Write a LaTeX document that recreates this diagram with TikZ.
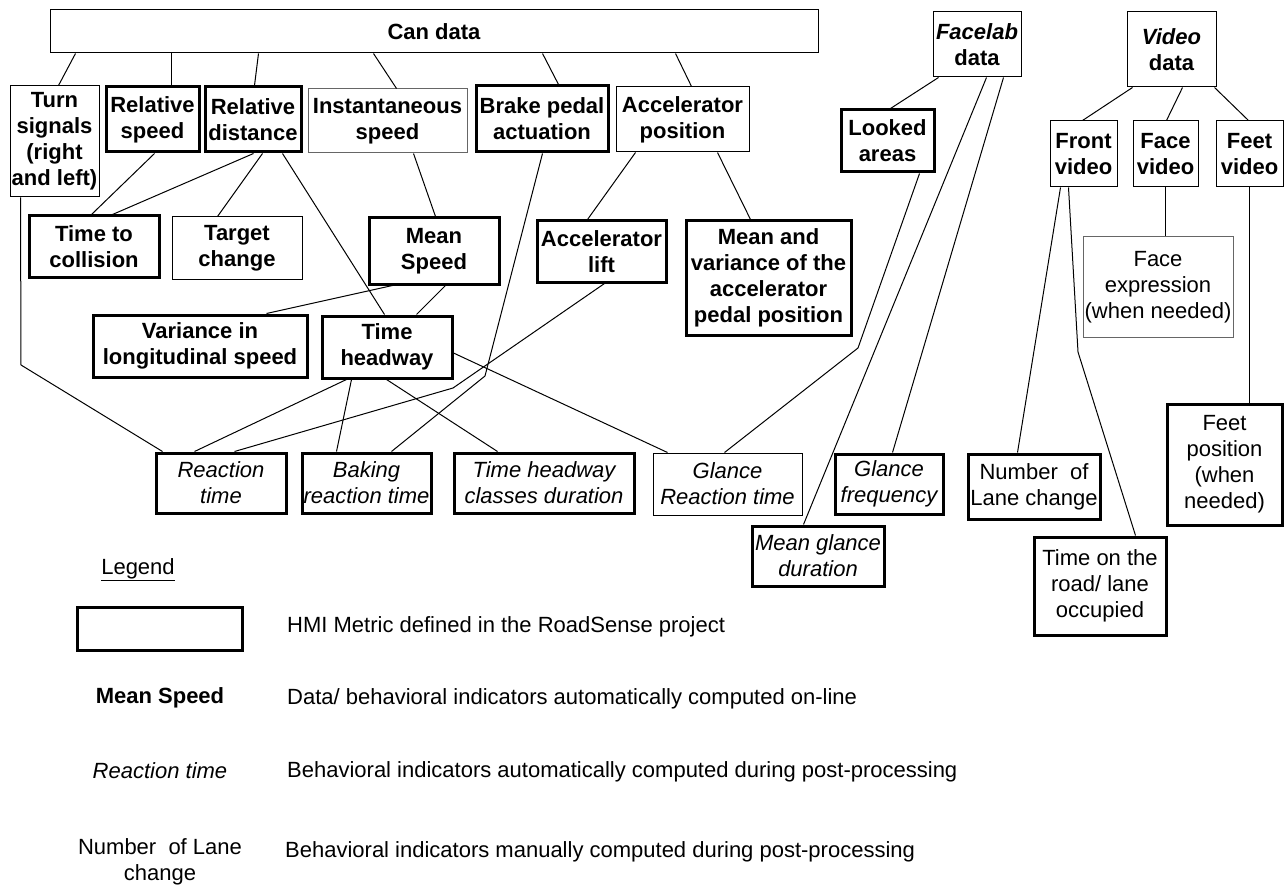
\documentclass[tikz,border=0pt]{standalone}
\usepackage{fontspec}
\setmainfont{Liberation Sans}
\usepackage{tikz}
\tikzstyle{online} = [font=\fontsize{22}{26}\selectfont\bfseries]
\tikzstyle{post} = [font=\fontsize{22}{26}\selectfont\itshape]
\tikzstyle{manual} = [font=\fontsize{22}{26}\selectfont]
\tikzstyle{datum} = [rectangle, draw=black, line width=1pt, inner sep=0pt, align=center, online]
\tikzstyle{metric} = [rectangle, draw=black, line width=3pt, inner sep=0pt, align=center, online]
\tikzstyle{legtext} = [anchor=west, inner sep=0pt, manual]
\tikzstyle{link} = [line width=1pt]

\begin{document}
\begin{tikzpicture}[x=1pt, y=-1pt]
  \useasboundingbox (0,0) rectangle (1284,885);
  \node(can)[datum, minimum width=768pt, minimum height=43pt] at (434,31.5){Can data};
  \node(facelab)[datum, minimum width=88pt, minimum height=65pt] at (977,44.5){\textit{Facelab}\\data};
  \node(video)[datum, minimum width=89pt, minimum height=75pt] at (1171.5,49.5){\textit{Video}\\data};
  \node(turn)[datum, minimum width=89pt, minimum height=111pt] at (54.5,141.5){Turn\\signals\\(right\\and left)};
  \node(relspeed)[metric, minimum width=93pt, minimum height=65pt] at (152.5,119.5){Relative\\speed};
  \node(reldist)[metric, minimum width=96pt, minimum height=65pt] at (253,119.5){Relative\\distance};
  \node(instspeed)[datum, draw=black!60, minimum width=159pt, minimum height=64pt] at (387.5,121){Instantaneous\\speed};
  \node(brake)[metric, minimum width=132pt, minimum height=66pt] at (542,119){Brake pedal\\actuation};
  \node(accpos)[datum, minimum width=133pt, minimum height=65pt] at (682.5,119.5){Accelerator\\position};
  \node(looked)[metric, minimum width=93pt, minimum height=62pt] at (887.5,141){Looked\\areas};
  \node(front)[datum, minimum width=67pt, minimum height=66pt] at (1083.5,154){Front\\video};
  \node(facevid)[datum, minimum width=65pt, minimum height=66pt] at (1165.5,154){Face\\video};
  \node(feetvid)[datum, minimum width=67pt, minimum height=66pt] at (1249.5,154){Feet\\video};
  \node(ttc)[metric, minimum width=130pt, minimum height=61pt] at (94,246.5){Time to\\collision};
  \node(target)[datum, minimum width=130pt, minimum height=62pt] at (237,248){Target\\change};
  \node(meanspeed)[metric, minimum width=130pt, minimum height=66pt] at (434,251){Mean\\Speed};
  \node(acclift)[metric, minimum width=129pt, minimum height=61pt] at (601.5,251.5){Accelerator\\lift};
  \node(meanvar)[metric, minimum width=165pt, minimum height=114pt] at (768.5,278){Mean and\\variance of the\\accelerator\\pedal position};
  \node(faceexpr)[datum, draw=black!60, manual, minimum width=150pt, minimum height=100pt] at (1158,287){Face\\expression\\(when needed)};
  \node(varlong)[metric, minimum width=214pt, minimum height=62pt] at (200,346){Variance in\\longitudinal speed};
  \node(headway)[metric, minimum width=130pt, minimum height=62pt] at (387,347){Time\\headway};
  \node(feetpos)[metric, manual, minimum width=115pt, minimum height=121pt] at (1224.5,464.5){Feet\\position\\(when\\needed)};
  \node(reaction)[metric, post, minimum width=130pt, minimum height=60pt] at (221,483){Reaction\\time};
  \node(baking)[metric, post, minimum width=129pt, minimum height=60pt] at (366.5,483){Baking\\reaction time};
  \node(classes)[metric, post, minimum width=180pt, minimum height=60pt] at (544,483){Time headway\\classes duration};
  \node(glancert)[datum, post, minimum width=149pt, minimum height=62pt] at (727.5,484){Glance\\Reaction time};
  \node(glancefreq)[metric, post, minimum width=108pt, minimum height=60pt] at (889,484){Glance\\frequency};
  \node(meanglance)[metric, post, minimum width=132pt, minimum height=60pt] at (818,556){Mean glance\\duration};
  \node(lanechange)[metric, manual, minimum width=132pt, minimum height=65pt] at (1034,486.5){Number\ \ of\\Lane change};
  \node(roadtime)[metric, manual, minimum width=132pt, minimum height=98pt] at (1100,586){Time on the\\road/ lane\\occupied};

  \node(legendlbl)[manual] at (138,570){\underline{Legend}};
  \node(legbox)[metric, minimum width=165pt, minimum height=43pt] at (159.5,628.5){};
  \node(legbold)[online] at (160,698){Mean Speed};
  \node(legital)[post] at (160,771){Reaction time};
  \node(legplain)[manual, align=center] at (160,862){Number\ \ of Lane\\change};
  \node(keybox)[legtext] at (287,627){HMI Metric defined in the RoadSense project};
  \node(keybold)[legtext] at (287,699){Data/ behavioral indicators automatically computed on-line};
  \node(keyital)[legtext] at (287,772){Behavioral indicators automatically computed during post-processing};
  \node(keyplain)[legtext] at (285,852){Behavioral indicators manually computed during post-processing};

  \coordinate(turnbend) at (21,365);
  \coordinate(brakebend) at (485,376);
  \coordinate(liftbend) at (453,388);
  \coordinate(lookbend) at (858,348);
  \coordinate(frontbend) at (1078,352);

  \draw[link] ([xshift=26pt]can.south west)--([xshift=49pt]turn.north west);
  \draw[link] ([xshift=122pt]can.south west)--([xshift=67pt]relspeed.north west);
  \draw[link] ([xshift=209pt]can.south west)--([xshift=51pt]reldist.north west);
  \draw[link] ([xshift=324pt]can.south west)--([xshift=89pt]instspeed.north west);
  \draw[link] ([xshift=493pt]can.south west)--([xshift=84pt]brake.north west);
  \draw[link] ([xshift=626pt]can.south west)--([xshift=76pt]accpos.north west);
  \draw[link] ([xshift=6pt]facelab.south west)--([xshift=51pt]looked.north west);
  \draw[link] ([xshift=54pt]facelab.south west)--([xshift=53pt]meanglance.north west);
  \draw[link] ([xshift=71pt]facelab.south west)--([xshift=59pt]glancefreq.north west);
  \draw[link] ([xshift=80pt]looked.south west)--(lookbend)--([xshift=72pt]glancert.north west);
  \draw[link] ([xshift=6pt]video.south west)--([xshift=33pt]front.north west);
  \draw[link] ([xshift=56pt]video.south west)--([xshift=34pt]facevid.north west);
  \draw[link] ([xshift=88pt]video.south west)--([xshift=33pt]feetvid.north west);
  \draw[link] (facevid.south)--(facevid.south |- faceexpr.north);
  \draw[link] (feetvid.south)--(feetvid.south |- feetpos.north);
  \draw[link] ([xshift=11pt]front.south west)--([xshift=51pt]lanechange.north west);
  \draw[link] ([xshift=19pt]front.south west)--(frontbend)--([xshift=103pt]roadtime.north west);
  \draw[link] ([xshift=20pt]accpos.south west)--([xshift=52pt]acclift.north west);
  \draw[link] ([xshift=102pt]accpos.south west)--([xshift=66pt]meanvar.north west);
  \draw[link] ([xshift=68pt]brake.south west)--(brakebend)--([xshift=91pt]baking.north west);
  \draw[link] ([xshift=69pt]acclift.south west)--(liftbend)--([xshift=80pt]reaction.north west);
  \draw[link] ([xshift=106pt]instspeed.south west)--([xshift=68pt]meanspeed.north west);
  \draw[link] ([xshift=50pt]relspeed.south west)--([xshift=64pt]ttc.north west);
  \draw[link] ([xshift=50pt]reldist.south west)--([xshift=85pt]ttc.north west);
  \draw[link] ([xshift=59pt]reldist.south west)--([xshift=46pt]target.north west);
  \draw[link] ([xshift=79pt]reldist.south west)--([xshift=64pt]headway.north west);
  \draw[link] ([xshift=25pt]meanspeed.south west)--([xshift=175pt]varlong.north west);
  \draw[link] ([xshift=78pt]meanspeed.south west)--([xshift=96pt]headway.north west);
  \draw[link] ([xshift=11pt]turn.south west)--(turnbend)--([xshift=8pt]reaction.north west);
  \draw[link] ([xshift=26pt]headway.south west)--([xshift=40pt]reaction.north west);
  \draw[link] ([xshift=31pt]headway.south west)--([xshift=36pt]baking.north west);
  \draw[link] ([xshift=66pt]headway.south west)--([xshift=45pt]classes.north west);
  \draw[link] ([yshift=-6pt]headway.east)--([xshift=15pt]glancert.north west);
\end{tikzpicture}
\end{document}
